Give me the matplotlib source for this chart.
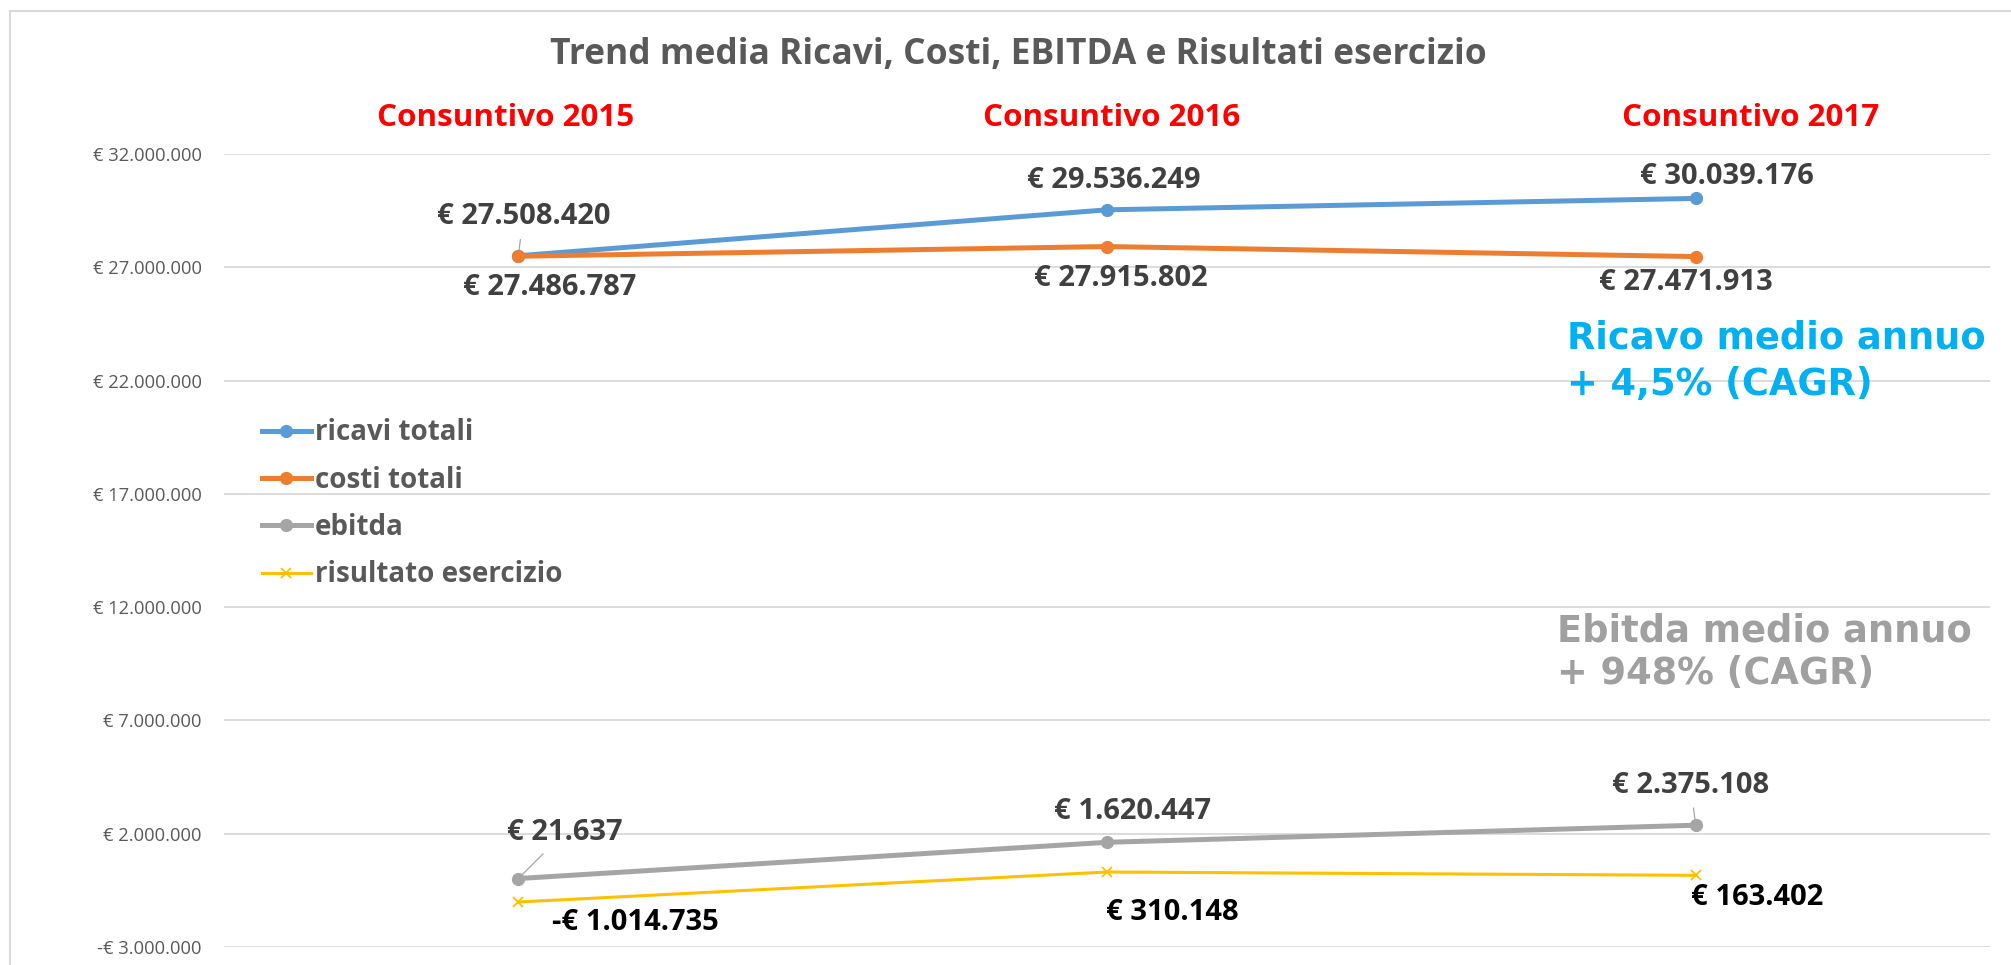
import matplotlib
matplotlib.use("Agg")
import matplotlib.pyplot as plt
from matplotlib.lines import Line2D
from matplotlib.ticker import FuncFormatter

plt.rcParams['font.family'] = ['Open Sans', 'DejaVu Sans']

# --- data ---
anni = ["Consuntivo 2015", "Consuntivo 2016", "Consuntivo 2017"]
ricavi = [27508420, 29536249, 30039176]
costi = [27486787, 27915802, 27471913]
ebitda = [21637, 1620447, 2375108]
risultato = [-1014735, 310148, 163402]
serie_nomi = ["ricavi totali", "costi totali", "ebitda", "risultato esercizio"]
y_ticks = list(range(-3000000, 32000001, 5000000))

W, H = 2011, 965


def fx(x):
    return x / W


def fy(y):
    return 1 - y / H


def euro(v):
    s = f"{abs(int(round(v))):,}".replace(",", ".")
    return ("-€ " if v < 0 else "€ ") + s


fig = plt.figure(figsize=(W / 100, H / 100), dpi=100)
fig.patch.set_facecolor("white")

# cornice esterna
fig.add_artist(Line2D([fx(10), fx(10)], [0, fy(11)], transform=fig.transFigure, color="#D9D9D9", lw=1.5))
fig.add_artist(Line2D([fx(10), 1], [fy(11), fy(11)], transform=fig.transFigure, color="#D9D9D9", lw=1.5))

ax = fig.add_axes([fx(224), fy(947), fx(1990) - fx(224), fy(154) - fy(947)])
x = range(len(anni))

l1, = ax.plot(x, ricavi, color="#5B9BD5", lw=3.6, marker="o", ms=8.5, label=serie_nomi[0], zorder=4)
l2, = ax.plot(x, costi, color="#ED7D31", lw=3.6, marker="o", ms=8.5, label=serie_nomi[1], zorder=4)
l3, = ax.plot(x, ebitda, color="#A5A5A5", lw=3.6, marker="o", ms=8.5, label=serie_nomi[2], zorder=4)
l4, = ax.plot(x, risultato, color="#FFC000", lw=2.2, marker="x", ms=7, mew=1.3, label=serie_nomi[3], zorder=4)

ax.set_xlim(-0.5, 2.5)
ax.set_ylim(-3000000, 32000000)
ax.set_yticks(y_ticks)
ax.yaxis.set_major_formatter(FuncFormatter(lambda v, p: euro(v)))
ax.set_xticks([])
ax.tick_params(axis="y", length=0, pad=16, labelsize=13.2, labelcolor="#595959")
ax.yaxis.grid(True, color="#D9D9D9", lw=1.3)
ax.set_axisbelow(True)
for s in ax.spines.values():
    s.set_visible(False)

# etichette dati (offset in pixel dal punto)
lab_font = dict(fontsize=21, fontweight="bold", ha="center", va="center")
leader = dict(arrowstyle="-", color="#A6A6A6", lw=0.9, shrinkA=4, shrinkB=3)
off_ricavi = [(5, 39), (7, 29), (31, 22)]
off_costi = [(31, -31), (14, -32), (-10, -26)]
off_ebitda = [(46, 46), (26, 31), (-5, 40)]
off_ris = [(117, -20), (65, -40), (61, -22)]

for i in x:
    ax.annotate(euro(ricavi[i]), (i, ricavi[i]), xytext=off_ricavi[i], textcoords="offset pixels",
                color="#404040", arrowprops=leader if i == 0 else None, **lab_font)
    ax.annotate(euro(costi[i]), (i, costi[i]), xytext=off_costi[i], textcoords="offset pixels",
                color="#404040", **lab_font)
    ax.annotate(euro(ebitda[i]), (i, ebitda[i]), xytext=off_ebitda[i], textcoords="offset pixels",
                color="#404040", arrowprops=leader if i in (0, 2) else None, **lab_font)
    ax.annotate(euro(risultato[i]), (i, risultato[i]), xytext=off_ris[i], textcoords="offset pixels",
                color="black", **lab_font)

# titolo e intestazioni
fig.text(fx(1018), fy(55), "Trend media Ricavi, Costi, EBITDA e Risultati esercizio",
         fontsize=25.5, fontweight="bold", color="#595959", ha="center", va="center")
for nome, cx in zip(anni, [506, 1112, 1751]):
    fig.text(fx(cx), fy(118), nome, fontsize=22.6, fontweight="bold", color="#FF0000",
             ha="center", va="center")

# note CAGR
cagr = dict(family="DejaVu Sans", fontsize=26.5, fontweight="bold", ha="left", va="center")
fig.text(fx(1567), fy(338), "Ricavo medio annuo", color="#00B0F0", **cagr)
fig.text(fx(1567), fy(384), "+ 4,5% (CAGR)", color="#00B0F0", **cagr)
fig.text(fx(1557), fy(631), "Ebitda medio annuo", color="#A0A0A0", **cagr)
fig.text(fx(1557), fy(674), "+ 948% (CAGR)", color="#A0A0A0", **cagr)

# legenda
leg = ax.legend(handles=[l1, l2, l3, l4], loc="center left", bbox_to_anchor=(fx(262), fy(504)),
                bbox_transform=fig.transFigure, frameon=False, borderpad=0, borderaxespad=0,
                handlelength=1.75, handletextpad=0.15, labelspacing=0.66,
                prop=dict(size=20, weight="bold"))
for t in leg.get_texts():
    t.set_color("#595959")

fig.savefig("out.png", dpi=100)
